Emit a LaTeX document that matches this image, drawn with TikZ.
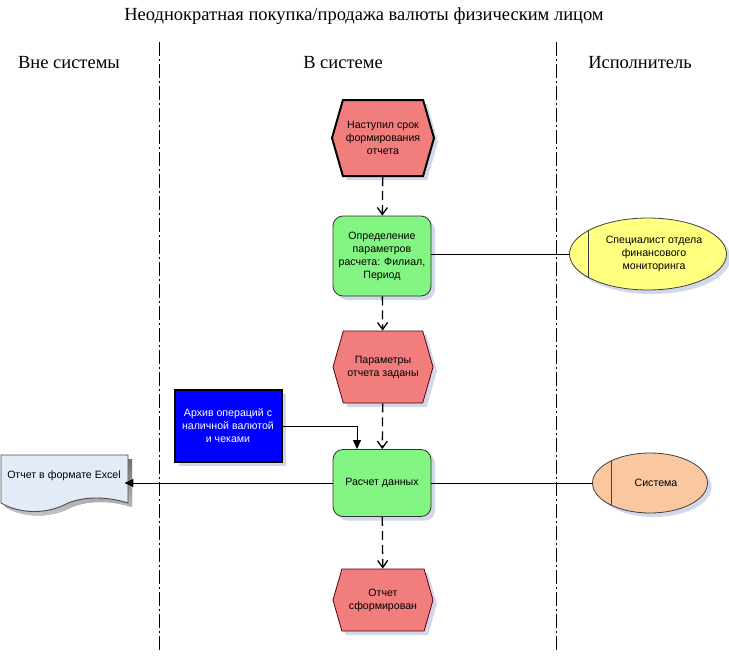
\documentclass[tikz,border=0pt]{standalone}
\usepackage{fontspec}
\setmainfont{Liberation Serif}
\newfontfamily\arialfont{Liberation Sans}
\usetikzlibrary{shapes.symbols,shapes.geometric,arrows.meta,shadows}
\definecolor{evfill}{RGB}{242,125,125}
\definecolor{fnfill}{RGB}{130,245,130}
\definecolor{specfill}{RGB}{255,255,128}
\definecolor{sysfill}{RGB}{250,200,160}
\definecolor{docfill}{RGB}{228,235,248}
\definecolor{shade}{RGB}{190,200,228}
\begin{document}
\begin{tikzpicture}[x=1pt, y=-1pt, thick,
  box text/.style={font=\arialfont\fontsize{10.6}{13}\selectfont, align=center},
  soft shadow/.style={drop shadow={shadow xshift=4pt, shadow yshift=-4pt, fill=shade, opacity=.7}},
  event node/.style={box text, signal, signal to=west and east, signal pointer angle=148, draw=red!35!black, fill=evfill, minimum width=100pt, minimum height=72pt, inner sep=0pt, soft shadow},
  func node/.style={box text, rectangle, rounded corners=10pt, draw=black!80, fill=fnfill, minimum width=98pt, minimum height=80pt, inner sep=0pt, soft shadow},
  role node/.style={box text, ellipse, draw=black!75, inner sep=0pt, soft shadow, path picture={\draw[black!75] ([xshift=19pt]path picture bounding box.north west) -- ([xshift=19pt]path picture bounding box.south west);}},
  lane/.style={line width=1pt, dash pattern=on 14pt off 3pt on 2pt off 3pt},
  flow/.style={line width=1.3pt, dash pattern=on 9pt off 5pt, -{Straight Barb[length=7pt, width=10pt]}},
  link/.style={line width=.9pt},
  solid arrow/.style={line width=1pt, -{Triangle[length=9pt, width=8pt]}}]
\useasboundingbox (0,0) rectangle (729,656);
% headings
\node [font=\fontsize{18.5}{22}\selectfont] (title) at (364,16) {Неоднократная покупка/продажа валюты физическим лицом};
\begin{scope}[every node/.style={font=\fontsize{18.5}{22}\selectfont}]
\node (outside) at (69,63) {Вне системы};
\node (inside) at (343,63) {В системе};
\node (doer) at (640,63) {Исполнитель};
\end{scope}
\draw [lane] (159,42) -- (159,652);
\draw [lane] (556,42) -- (556,652);
% process
\node [event node, draw=black, line width=2pt, minimum width=102pt, minimum height=76pt] (start) at (383,138) {Наступил срок\\формирования\\отчета};
\node [func node] (setup) at (382,256) {Определение\\параметров\\расчета: Филиал,\\Период};
\node [event node] (ready) at (383,367) {Параметры\\отчета заданы};
\node [func node, minimum height=67pt] (calc) at (382,483) {Расчет данных};
\node [event node, minimum height=62pt] (done) at (383,600) {Отчет\\сформирован};
\node [box text, rectangle, draw=black, line width=2pt, fill=blue, text=white, minimum width=107pt, minimum height=72pt, inner sep=0pt, soft shadow] (archive) at (228,426) {Архив операций с\\наличной валютой\\и чеками};
\node [role node, fill=specfill, minimum width=157pt, minimum height=72pt] (spec) at (648,254) {\hspace*{12pt}Специалист отдела\\\hspace*{12pt}финансового\\\hspace*{12pt}мониторинга};
\node [role node, fill=sysfill, minimum width=115pt, minimum height=60pt] (sys) at (650,483) {\hspace*{12pt}Система};
% document
\fill [shade, opacity=.7] (5,459) -- (132,459) -- (132,507) .. controls (110,500) and (85,500) .. (68,509) .. controls (49,518) and (24,518) .. (5,507) -- cycle;
\draw [fill=docfill, draw=black!70, line width=.9pt] (1,455) -- (128,455) -- (128,503) .. controls (106,496) and (81,496) .. (64,505) .. controls (45,514) and (20,514) .. (1,503) -- cycle;
\node [box text] (report) at (64,476) {Отчет в формате Excel};
% connectors
\draw [flow] (start) -- (setup);
\draw [flow] (setup) -- (ready);
\draw [flow] (ready) -- (calc);
\draw [flow] (calc) -- (done);
\draw [link] (setup.east |- spec.west) -- (spec.west);
\draw [link] (calc) -- (sys);
\draw [solid arrow] (archive.east) -| ([xshift=-25pt]calc.north);
\draw [solid arrow] (calc.west) -- (report.east |- calc.west);
\end{tikzpicture}
\end{document}
